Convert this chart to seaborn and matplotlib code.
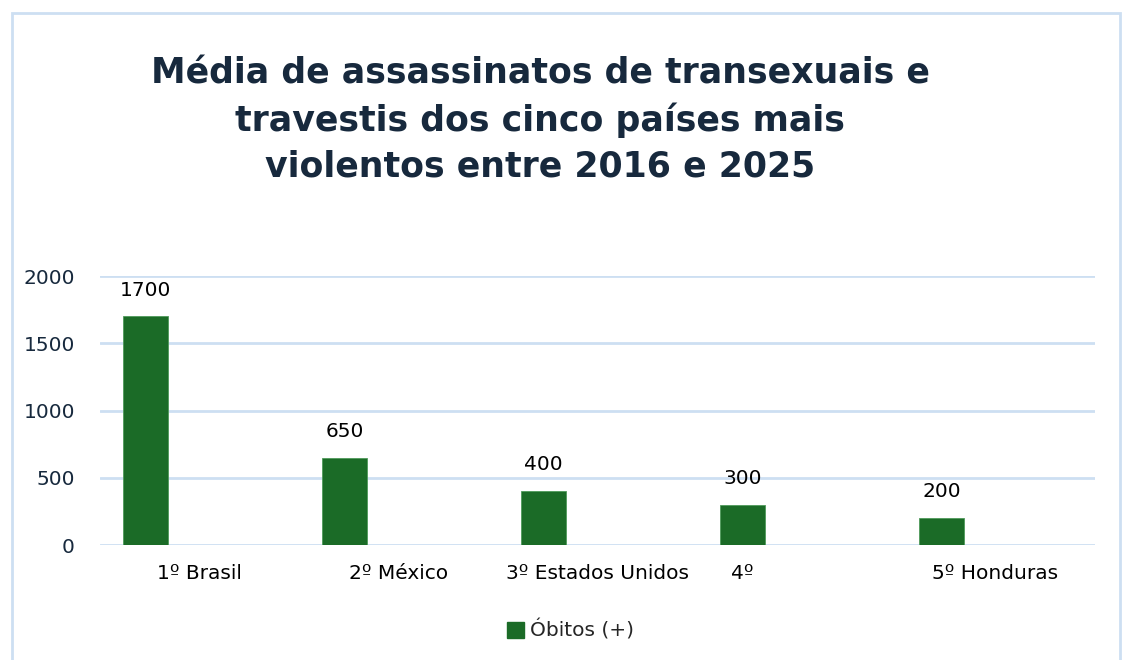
import matplotlib
matplotlib.use('Agg')
import matplotlib.pyplot as plt
from matplotlib.patches import Rectangle, Patch
import seaborn as sns
import pandas as pd

paises = ['1º Brasil', '2º México', '3º Estados Unidos', '4º', '5º Honduras']
obitos = [1700, 650, 400, 300, 200]
serie = 'Óbitos (+)'
yticks = [0, 500, 1000, 1500, 2000]

verde = '#1b6b27'
azul_grade = '#cddff2'
azul_texto = '#17293d'

sns.set_theme(style='white')
plt.rcParams['font.family'] = ['DejaVu Sans']

df = pd.DataFrame({'pais': paises, 'obitos': obitos})

fig = plt.figure(figsize=(11.23, 6.6), dpi=100)
ax = fig.add_axes([0.089, 0.1742, 0.886, 0.4076])

sns.barplot(data=df, x='pais', y='obitos', color=verde, width=0.226,
            saturation=1, ax=ax, edgecolor='#4f9a5a', linewidth=0.6)

# barras deslocadas para a esquerda dentro de cada categoria
for p in ax.patches:
    p.set_x(p.get_x() - 0.27)

for p, v in zip(ax.patches, obitos):
    ax.text(p.get_x() + p.get_width() / 2, v + 195, str(v), ha='center',
            va='center', fontsize=14.5, color='black')

ax.set_xlim(-0.5, 4.5)
ax.set_ylim(0, 2000)
ax.set_yticks(yticks)
ax.set_yticklabels([str(t) for t in yticks], fontsize=14.5, color=azul_texto)
labels = list(paises)
labels[3] = '4º' + '\u00a0' * 17
ax.set_xticks(range(len(paises)))
ax.set_xticklabels(labels, fontsize=14.5, color='black')
ax.tick_params(axis='x', length=0, pad=14)
ax.tick_params(axis='y', length=0, pad=18)
ax.set_xlabel('')
ax.set_ylabel('')
ax.grid(axis='y', color=azul_grade, linewidth=2)
ax.set_axisbelow(True)
for s in ax.spines.values():
    s.set_visible(False)

fig.text(0.481, 0.818, 'Média de assassinatos de transexuais e\ntravestis dos cinco países mais\nviolentos entre 2016 e 2025',
         ha='center', va='center', fontsize=25, fontweight='bold',
         color=azul_texto, linespacing=1.42)

fig.legend(handles=[Patch(color=verde, label=serie)], loc='center',
           bbox_to_anchor=(0.508, 0.045), frameon=False, fontsize=14.5,
           handlelength=0.8, handleheight=0.8, handletextpad=0.3)

fig.patches.append(Rectangle((12 / 1123, -0.01), 1108 / 1123, 1 - 13 / 660 + 0.01,
                             transform=fig.transFigure, fill=False,
                             edgecolor=azul_grade, linewidth=2))

fig.savefig('out.png', dpi=100)
